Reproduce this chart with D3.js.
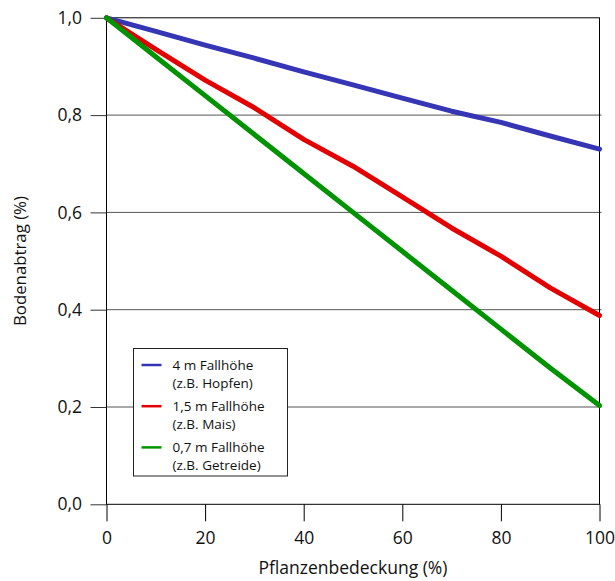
<!DOCTYPE html>
<html>
<head>
<meta charset="utf-8">
<script src="https://cdn.jsdelivr.net/npm/d3@7"></script>
<style>
  body { margin: 0; background: #fff; }
  svg text { font-family: "Open Sans", "Liberation Sans", sans-serif; fill: #111; }
</style>
</head>
<body>
<svg id="chart" width="615" height="581"></svg>
<script>
// --- data ---
const coverage = [0, 10, 20, 30, 40, 50, 60, 70, 80, 90, 100];
const hopfen   = [1.0, 0.972, 0.944, 0.917, 0.889, 0.862, 0.835, 0.808, 0.785, 0.757, 0.73];
const mais     = [1.0, 0.935, 0.872, 0.815, 0.75, 0.695, 0.632, 0.568, 0.51, 0.445, 0.388];
const getreide = [1.0, 0.92, 0.84, 0.76, 0.68, 0.60, 0.52, 0.44, 0.36, 0.28, 0.203];

const seriesNames = [["4 m Fallhöhe", "(z.B. Hopfen)"], ["1,5 m Fallhöhe", "(z.B. Mais)"], ["0,7 m Fallhöhe", "(z.B. Getreide)"]];
const seriesColors = ["#3535b5", "#e20000", "#009300"];
const xTicks = [0, 20, 40, 60, 80, 100];
const yTicks = [0, 0.2, 0.4, 0.6, 0.8, 1.0];

const series = [hopfen, mais, getreide];

const svg = d3.select("#chart");
const x = d3.scaleLinear().domain([0, 100]).range([106.5, 599.5]);
const y = d3.scaleLinear().domain([0, 1]).range([504.3, 17.8]);

// horizontal grid lines (extend slightly past the frame on the right)
svg.append("g").selectAll("line")
    .data(yTicks.filter(d => d > 0 && d < 1))
    .enter().append("line")
    .attr("x1", x(0)).attr("x2", x(100) + 2)
    .attr("y1", d => y(d)).attr("y2", d => y(d))
    .attr("stroke", "#555").attr("stroke-width", 1);

// frame
svg.append("rect")
    .attr("x", x(0)).attr("y", y(1))
    .attr("width", x(100) - x(0)).attr("height", y(0) - y(1))
    .attr("fill", "none").attr("stroke", "#000").attr("stroke-width", 1);

// y axis
const yAxis = svg.append("g")
    .attr("transform", `translate(${x(0)},0)`)
    .call(d3.axisLeft(y).tickValues(yTicks).tickSize(16).tickPadding(8.5)
        .tickFormat(d => d.toFixed(1).replace(".", ",")));
yAxis.select(".domain").remove();
yAxis.selectAll("line").attr("stroke", "#333");
yAxis.selectAll("text").attr("font-size", 17.5).attr("fill", "#111");

// x axis
const xAxis = svg.append("g")
    .attr("transform", `translate(0,${y(0)})`)
    .call(d3.axisBottom(x).tickValues(xTicks).tickSize(17).tickPadding(10.5)
        .tickFormat(d3.format("d")));
xAxis.select(".domain").remove();
xAxis.selectAll("line").attr("stroke", "#000");
xAxis.selectAll("text").attr("font-size", 17.5).attr("fill", "#111");

// axis titles
svg.append("text")
    .attr("x", 353).attr("y", 574)
    .attr("text-anchor", "middle").attr("font-size", 17.5)
    .text("Pflanzenbedeckung (%)");

svg.append("text")
    .attr("transform", `translate(26,${(y(0) + y(1)) / 2}) rotate(-90)`)
    .attr("text-anchor", "middle").attr("font-size", 16.8)
    .text("Bodenabtrag (%)");

// data lines
const line = d3.line()
    .x((d, i) => x(coverage[i]))
    .y(d => y(d));

series.forEach((vals, i) => {
    svg.append("path")
        .datum(vals)
        .attr("d", line)
        .attr("fill", "none")
        .attr("stroke", seriesColors[i])
        .attr("stroke-width", 5)
        .attr("stroke-linecap", "round")
        .attr("stroke-linejoin", "round");
});

// legend
const legend = svg.append("g").attr("transform", "translate(133.5,348.5)");
legend.append("rect")
    .attr("width", 154).attr("height", 127.5)
    .attr("fill", "#fff").attr("stroke", "#222").attr("stroke-width", 1);

seriesNames.forEach((lines, i) => {
    const gy = 16.5 + i * 41.2;
    legend.append("line")
        .attr("x1", 8).attr("x2", 28)
        .attr("y1", gy).attr("y2", gy)
        .attr("stroke", seriesColors[i]).attr("stroke-width", 2.5);
    lines.forEach((t, j) => {
        legend.append("text")
            .attr("x", 39).attr("y", gy + 5 + j * 17.5)
            .attr("font-size", 13.5)
            .text(t);
    });
});
</script>
</body>
</html>
